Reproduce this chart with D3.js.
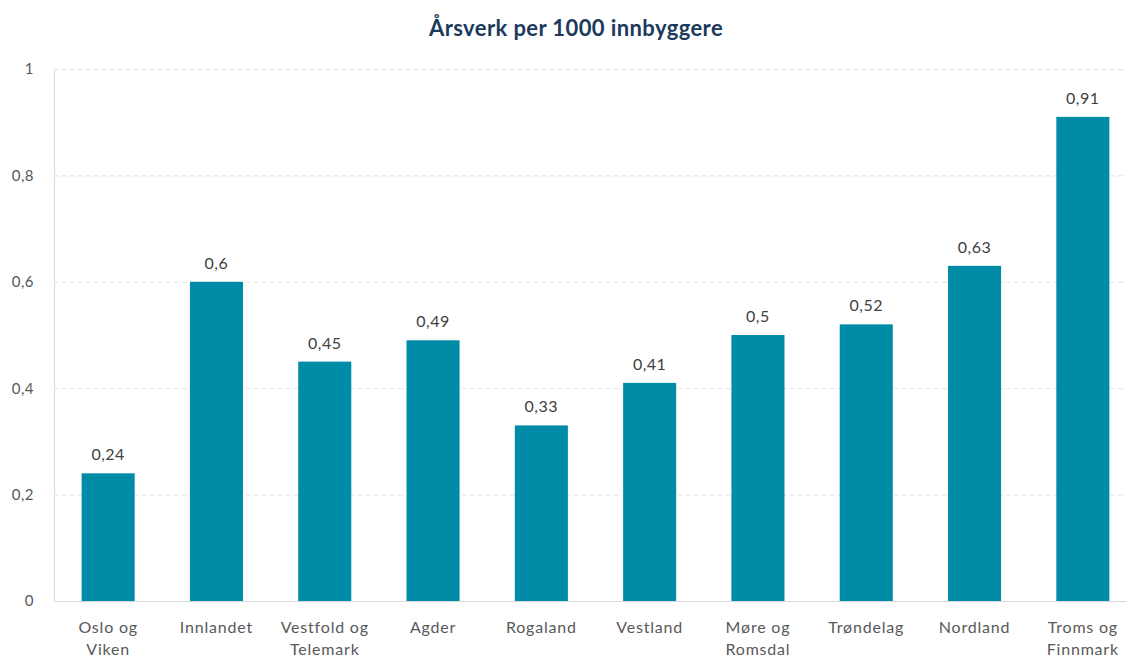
<!DOCTYPE html>
<html>
<head>
<meta charset="utf-8">
<script src="https://cdn.jsdelivr.net/npm/d3@7"></script>
<style>
  body { margin: 0; background: #fff; }
  text { font-family: Lato, "Open Sans", sans-serif; }
</style>
</head>
<body>
<div class="canvas"></div>
<script>
// data
const regions = [
    ['Oslo og', 'Viken'],
    ['Innlandet'],
    ['Vestfold og', 'Telemark'],
    ['Agder'],
    ['Rogaland'],
    ['Vestland'],
    ['Møre og', 'Romsdal'],
    ['Trøndelag'],
    ['Nordland'],
    ['Troms og', 'Finnmark']
];
const values = [0.24, 0.6, 0.45, 0.49, 0.33, 0.41, 0.5, 0.52, 0.63, 0.91];
const yTicks = [0, 0.2, 0.4, 0.6, 0.8, 1];

const dims = { width: 1126, height: 660 };
const plot = { left: 54, right: 1137, top: 69, bottom: 601 };

const svg = d3.select('.canvas')
    .append('svg')
    .attr('width', dims.width)
    .attr('height', dims.height);

const x = d3.scaleBand()
    .domain(d3.range(values.length))
    .range([plot.left, plot.right])
    .paddingInner(0.51)
    .paddingOuter(0.255);

const y = d3.scaleLinear()
    .domain([0, 1])
    .range([plot.bottom, plot.top]);

const fmt = v => String(v).replace('.', ',');

// title
svg.append('text')
    .attr('x', 576)
    .attr('y', 36)
    .attr('text-anchor', 'middle')
    .attr('font-size', 22)
    .attr('font-weight', 'bold')
    .attr('letter-spacing', 0.4)
    .attr('fill', '#1b3a5c')
    .text('Årsverk per 1000 innbyggere');

// gridlines
svg.append('g')
    .selectAll('line')
    .data(yTicks.filter(t => t > 0))
    .enter().append('line')
        .attr('x1', plot.left)
        .attr('x2', dims.width)
        .attr('y1', d => y(d) + 0.5)
        .attr('y2', d => y(d) + 0.5)
        .attr('stroke', '#e3e3e3')
        .attr('stroke-dasharray', '5,3');

// y axis
const yAxis = svg.append('g')
    .attr('transform', `translate(${plot.left}, 0)`)
    .call(d3.axisLeft(y).tickValues(yTicks).tickSize(0).tickPadding(20).tickFormat(fmt));
yAxis.select('.domain').attr('stroke', '#d9d9d9');
yAxis.selectAll('text')
    .attr('font-size', 15)
    .attr('letter-spacing', 0.5)
    .attr('fill', '#595959')
    .style('font-family', 'Lato, "Open Sans", sans-serif');

// bars
svg.append('g')
    .selectAll('rect')
    .data(values)
    .enter().append('rect')
        .attr('x', (d, i) => x(i))
        .attr('y', d => y(d))
        .attr('width', x.bandwidth())
        .attr('height', d => y(0) - y(d))
        .attr('fill', '#008ca6');

// baseline
svg.append('line')
    .attr('x1', plot.left)
    .attr('x2', dims.width)
    .attr('y1', plot.bottom + 0.5)
    .attr('y2', plot.bottom + 0.5)
    .attr('stroke', '#d9d9d9');

// value labels
svg.append('g')
    .selectAll('text')
    .data(values)
    .enter().append('text')
        .attr('x', (d, i) => x(i) + x.bandwidth() / 2)
        .attr('y', d => y(d) - 13)
        .attr('text-anchor', 'middle')
        .attr('font-size', 16)
        .attr('letter-spacing', 0.5)
        .attr('fill', '#404040')
        .text(fmt);

// category labels
const cats = svg.append('g')
    .selectAll('text')
    .data(regions)
    .enter().append('text')
        .attr('x', (d, i) => x(i) + x.bandwidth() / 2)
        .attr('y', 633)
        .attr('text-anchor', 'middle')
        .attr('font-size', 16)
        .attr('letter-spacing', 0.8)
        .attr('fill', '#595959');

cats.selectAll('tspan')
    .data(d => d)
    .enter().append('tspan')
        .attr('x', function() { return this.parentNode.getAttribute('x'); })
        .attr('dy', (d, i) => i === 0 ? 0 : 22)
        .text(d => d);
</script>
</body>
</html>
